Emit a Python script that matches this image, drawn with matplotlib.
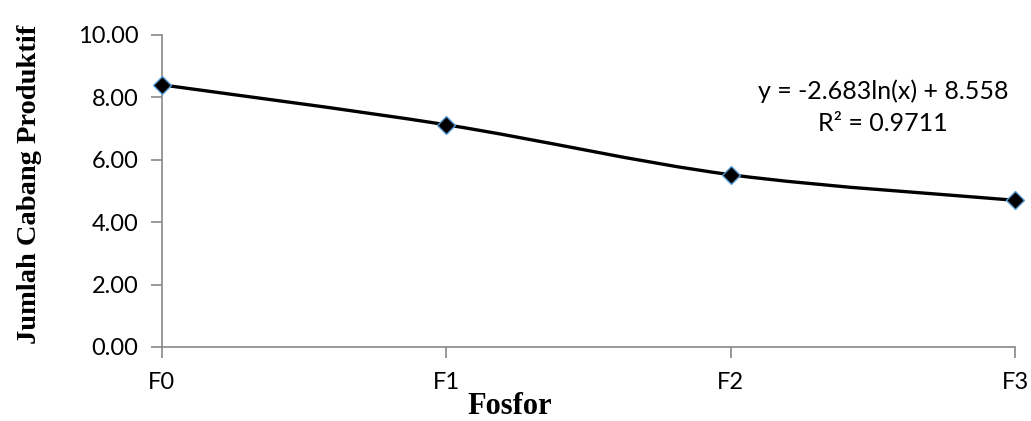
import numpy as np
import matplotlib.pyplot as plt
from matplotlib.path import Path
from matplotlib.patches import PathPatch

# data
categories = ["F0", "F1", "F2", "F3"]
values = [8.40, 7.12, 5.52, 4.70]
y_ticks = [0, 2, 4, 6, 8, 10]

fig = plt.figure(figsize=(10.31, 4.21), dpi=100)
ax = fig.add_axes([0.157, 0.176, 0.8275, 0.741])

x = np.arange(len(categories), dtype=float)
y = np.array(values)

# smoothed line like Excel (cardinal bezier)
verts = [(x[0], y[0])]
codes = [Path.MOVETO]
t = 1.0 / 6.0
for i in range(len(x) - 1):
    x0, y0 = (x[i - 1], y[i - 1]) if i > 0 else (x[i], y[i])
    x3, y3 = (x[i + 2], y[i + 2]) if i + 2 < len(x) else (x[i + 1], y[i + 1])
    c1 = (x[i] + t * (x[i + 1] - x0), y[i] + t * (y[i + 1] - y0))
    c2 = (x[i + 1] - t * (x3 - x[i]), y[i + 1] - t * (y3 - y[i]))
    verts += [c1, c2, (x[i + 1], y[i + 1])]
    codes += [Path.CURVE4] * 3
ax.add_patch(PathPatch(Path(verts, codes), facecolor="none", edgecolor="black",
                       lw=2.4, zorder=2))

ax.plot(x, y, linestyle="none", marker="D", markersize=9, color="black",
        markeredgecolor="#5b9bd5", markeredgewidth=1.0, zorder=3, clip_on=False)

ax.set_xlim(0, 3)
ax.set_ylim(0, 10)
ax.set_xticks(x)
ax.set_xticklabels(categories)
ax.set_yticks(y_ticks)
ax.set_yticklabels([f"{v:.2f}" for v in y_ticks])

for s in ["top", "right"]:
    ax.spines[s].set_visible(False)
for s in ["left", "bottom"]:
    ax.spines[s].set_color("#888888")
    ax.spines[s].set_linewidth(1.2)
ax.tick_params(axis="both", direction="out", length=8, width=1.2, color="#888888",
               labelsize=17)
ax.tick_params(axis="y", pad=9)
ax.tick_params(axis="x", pad=10)
for lab in ax.get_xticklabels() + ax.get_yticklabels():
    lab.set_fontfamily("Lato")

ax.set_xlabel("Fosfor", fontfamily="Liberation Serif", fontweight="bold", fontsize=22)
ax.xaxis.set_label_coords(0.408, -0.145)
ax.set_ylabel("Jumlah Cabang Produktif", fontfamily="Liberation Serif",
              fontweight="bold", fontsize=20.5)
ax.yaxis.set_label_coords(-0.141, 0.52)

ax.text(0.845, 0.768, "y = -2.683ln(x) + 8.558\nR² = 0.9711", transform=ax.transAxes,
        ha="center", va="center", fontsize=18, fontfamily="Lato", linespacing=1.5)

fig.savefig("out.png", dpi=100)
